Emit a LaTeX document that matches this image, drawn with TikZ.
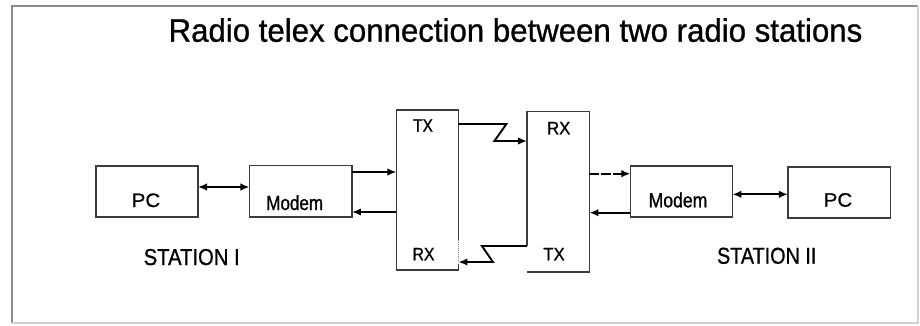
\documentclass[tikz,border=0pt]{standalone}
\usepackage{fontspec}
\usepackage{graphicx}
\setmainfont{Liberation Sans}
\newfontfamily\scanfont{Liberation Sans}[FakeBold=0.9]
\usetikzlibrary{arrows.meta,calc}
\definecolor{boxc}{HTML}{3C3C3C}
\definecolor{framec}{HTML}{8C8C8C}
\definecolor{framelc}{HTML}{D2D2D2}
\newcommand\hsq[2]{\scalebox{#1}[1]{#2}}
\begin{document}
\begin{tikzpicture}[x=1pt,y=-1pt,
  box/.style={draw=boxc, line width=1.3pt, inner sep=0pt, outer sep=0pt},
  ghost/.style={inner sep=0pt, outer sep=0pt},
  boxline/.style={draw=boxc, line width=1.3pt},
  lbl/.style={inner sep=0pt, anchor=base, text=black},
  arr/.style={line width=1.9pt, -{Latex[length=9pt,width=7.5pt]}},
  darr/.style={line width=1.9pt, {Latex[length=9pt,width=7.5pt]}-{Latex[length=9pt,width=7.5pt]}},
  fs/.style={font=\scanfont\fontsize{#1}{#1}\selectfont}
]
\useasboundingbox (0,0) rectangle (920,325);
\fill[white] (0,0) rectangle (920,325);
% frame
\draw[framec, line width=1.5pt] (12,323) -- (12,6) -- (918,6);
\draw[framelc, line width=1.2pt] (12,323) -- (918,323) -- (918,6);

% boxes
\node[box, minimum width=102pt, minimum height=51pt] (pcL) at (147,191.5) {};
\node[box, minimum width=102.5pt, minimum height=51.5pt] (modL) at (300.7,191.2) {};
\node[ghost, minimum width=62pt, minimum height=160pt] (radL) at (427.4,190) {};
\node[ghost, minimum width=62.5pt, minimum height=160.5pt] (radR) at (558.2,191.7) {};
\node[box, minimum width=102pt, minimum height=51pt] (modR) at (681.4,191.5) {};
\node[box, minimum width=102.5pt, minimum height=51pt] (pcR) at (839.2,192.5) {};

% radio boxes (open edges as in the reference)
\draw[boxline] ($(radL.north east)+(0,130)$) -- (radL.north east) -- (radL.north west)
   -- (radL.south west) -- (radL.south east) -- ($(radL.south east)+(0,-6)$);
\draw[boxc!60, line width=1pt, densely dotted] ($(radL.north east)+(0,130)$) -- ($(radL.south east)+(0,-9)$);
\draw[boxline] ($(radR.north west)+(0,134.5)$) -- (radR.north west) -- (radR.north east)
   -- (radR.south east) -- (radR.south west);

% labels
\node[lbl, fs=32.5] (title) at (515.5,41.7) {\hsq{0.96}{Radio telex connection between two radio stations}};
\node[lbl, fs=19.5] (pcLt) at (146,207) {\hsq{1.05}{PC}};
\node[lbl, fs=20.5] (modLt) at (294.7,210) {\hsq{0.83}{Modem}};
\node[lbl, fs=20.5] (modRt) at (678,207.3) {\hsq{0.86}{Modem}};
\node[lbl, fs=19.5] (pcRt) at (838,206.7) {\hsq{1.05}{PC}};
\node[lbl, fs=18] (txLt) at (423,131.7) {\hsq{0.86}{TX}};
\node[lbl, fs=18] (rxLt) at (423.5,260.3) {\hsq{0.88}{RX}};
\node[lbl, fs=18] (rxRt) at (558.7,134.3) {\hsq{0.93}{RX}};
\node[lbl, fs=18] (txRt) at (554,260.3) {\hsq{0.93}{TX}};
\node[lbl, fs=23] (st1) at (191.7,265) {\hsq{0.88}{STATION I}};
\node[lbl, fs=23] (st2) at (766.7,263.7) {\hsq{0.86}{STATION II}};

% connectors
\coordinate (d1) at ($(pcL.east)+(0,-4.5)$);
\draw[darr] (d1) -- (d1 -| modL.west);
\coordinate (d2) at ($(modR.east)+(0,2.8)$);
\draw[darr] (d2) -- (d2 -| pcR.west);

\coordinate (m1) at ($(modL.east)+(0,-19.2)$);
\draw[arr] (m1) -- (m1 -| radL.west);
\coordinate (m2) at ($(radL.west)+(0,22)$);
\draw[arr] (m2) -- (m2 -| modL.east);
\coordinate (m3) at ($(radR.east)+(0,-18)$);
\draw[arr, dash pattern=on 10pt off 2pt] (m3) -- (m3 -| modR.west);
\coordinate (m4) at ($(modR.west)+(0,21.2)$);
\draw[arr] (m4) -- (m4 -| radR.east);

% radio links
\draw[arr] ($(radL.east)+(0,-66)$) -- ++(48,0) -- ++(-12,17) -- ($(radR.west)+(0,-50.7)$);
\draw[arr] ($(radR.west)+(0,54.3)$) -- ++(-45,0) -- ++(11,16) -- ($(radL.east)+(0,72)$);
\end{tikzpicture}
\end{document}
